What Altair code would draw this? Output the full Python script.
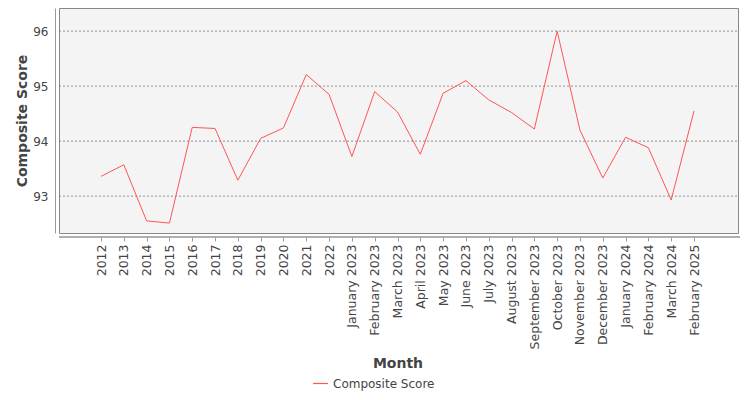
import altair as alt
import pandas as pd

# categories on the x axis
months = [
    "2012", "2013", "2014", "2015", "2016", "2017", "2018", "2019", "2020",
    "2021", "2022", "January 2023", "February 2023", "March 2023",
    "April 2023", "May 2023", "June 2023", "July 2023", "August 2023",
    "September 2023", "October 2023", "November 2023", "December 2023",
    "January 2024", "February 2024", "March 2024", "February 2025",
]

# composite score
scores = [
    93.36, 93.57, 92.55, 92.51, 94.25, 94.23, 93.29, 94.05, 94.24,
    95.21, 94.85, 93.72, 94.90, 94.53, 93.76, 94.87, 95.10, 94.75,
    94.52, 94.22, 96.00, 94.20, 93.33, 94.07, 93.88, 92.93, 94.55,
]

# y tick values / grid lines
y_ticks = [93, 94, 95, 96]

df = pd.DataFrame({
    "Month": months,
    "Score": scores,
    "Series": ["Composite Score"] * len(months),
})
grid_df = pd.DataFrame({"Score": y_ticks})

font = "DejaVu Sans"
W, H = 679, 225

y_scale = alt.Scale(domain=[92.33, 96.42], nice=False, zero=False)
y_axis = alt.Axis(
    title="Composite Score",
    values=y_ticks,
    format="d",
    offset=4,
    ticks=False,
    grid=False,
    labelFontSize=12,
    labelColor="#444444",
    labelPadding=7,
    domainColor="#999999",
    titleFontSize=14,
    titleFontWeight="bold",
    titleColor="#444444",
    titlePadding=3,
)

# dashed grid across the whole plot area
grid = alt.Chart(grid_df).mark_rule(
    color="#777777", strokeDash=[2, 2], strokeWidth=0.8
).encode(
    y=alt.Y("Score:Q", scale=y_scale, axis=y_axis),
    x=alt.value(0),
    x2=alt.value(W),
)

# x axis line spanning the full width (axis is offset below the frame)
x_axis_line = alt.Chart(grid_df).mark_rule(color="#aaaaaa", strokeWidth=1).encode(
    y=alt.value(H + 4),
    x=alt.value(0),
    x2=alt.value(W + 2),
)

line = alt.Chart(df).mark_line(strokeWidth=1).encode(
    x=alt.X(
        "Month:N",
        sort=months,
        # category margins like the original: first/last point inset from the frame
        scale=alt.Scale(type="point", range=[42, 635], padding=0),
        axis=alt.Axis(
            title="Month",
            offset=4,
            domain=False,
            labelAngle=270,
            labelAlign="right",
            labelBaseline="middle",
            labelFontSize=12.5,
            labelColor="#444444",
            labelPadding=3,
            tickSize=4,
            tickColor="#999999",
            titleFontSize=14,
            titleFontWeight="bold",
            titleColor="#444444",
            titlePadding=8,
        ),
    ),
    y=alt.Y("Score:Q", scale=y_scale, axis=y_axis),
    color=alt.Color(
        "Series:N",
        scale=alt.Scale(range=["#ff5555"]),
        legend=alt.Legend(
            title=None,
            orient="none",
            legendX=253,
            legendY=367,
            symbolType="stroke",
            symbolSize=220,
            symbolStrokeWidth=1.2,
            labelFontSize=12,
            labelColor="#444444",
            labelFont=font,
        ),
    ),
)

chart = alt.layer(grid, x_axis_line, line).properties(
    width=W,
    height=H,
    autosize=alt.AutoSizeParams(type="none"),
    padding={"left": 51, "top": 0, "right": 4, "bottom": 160},
).configure(
    font=font,
    background="white",
).configure_view(
    fill="#f4f4f4",
    stroke="#888888",
    strokeWidth=1,
)

chart.save("out.html", embed_options={"renderer": "svg", "actions": False})
